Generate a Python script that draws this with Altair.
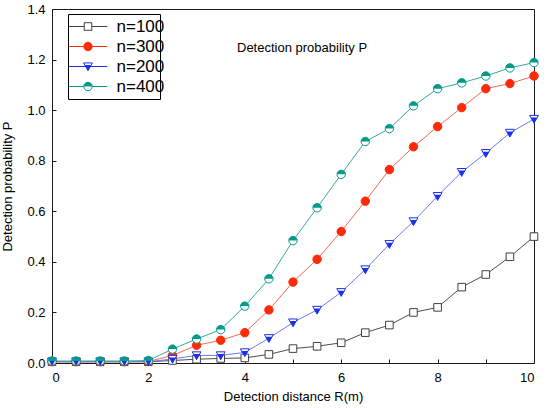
import altair as alt
import pandas as pd

# ---- data ----
x_vals = [0, 0.5, 1, 1.5, 2, 2.5, 3, 3.5, 4, 4.5, 5, 5.5, 6, 6.5, 7, 7.5, 8, 8.5, 9, 9.5, 10]
p_n100 = [0.005, 0.005, 0.005, 0.005, 0.005, 0.01, 0.015, 0.018, 0.02, 0.034, 0.057,
          0.066, 0.08, 0.12, 0.15, 0.20, 0.22, 0.30, 0.35, 0.42, 0.50]
p_n300 = [0.005, 0.005, 0.005, 0.005, 0.006, 0.03, 0.07, 0.09, 0.12, 0.21, 0.32,
          0.41, 0.52, 0.64, 0.765, 0.855, 0.935, 1.01, 1.085, 1.105, 1.135]
p_n200 = [0.005, 0.005, 0.005, 0.005, 0.005, 0.016, 0.03, 0.03, 0.042, 0.098, 0.16,
          0.21, 0.28, 0.37, 0.47, 0.56, 0.66, 0.755, 0.83, 0.91, 0.965]
p_n400 = [0.008, 0.008, 0.008, 0.008, 0.01, 0.055, 0.095, 0.132, 0.225, 0.333, 0.484,
          0.614, 0.746, 0.876, 0.927, 1.017, 1.085, 1.108, 1.135, 1.167, 1.188]

series_names = ["n=100", "n=300", "n=200", "n=400"]
line_colors = ["#4d4d4d", "#f36a52", "#6b7cf2", "#35aa9b"]
marker_colors = ["#404040", "#ff2a08", "#1a30ec", "#009a8a"]
marker_fills = ["#ffffff", "#ff2a08", "#ffffff", "#ffffff"]
half_series = ["n=200", "n=400"]
half_colors = ["#1a30ec", "#009a8a"]

x_ticks = [0, 1, 2, 3, 4, 5, 6, 7, 8, 9, 10]
y_ticks = [0.0, 0.1, 0.2, 0.3, 0.4, 0.5, 0.6, 0.7, 0.8, 0.9, 1.0, 1.1, 1.2, 1.3, 1.4]

rows = []
for name, vals in zip(series_names, [p_n100, p_n300, p_n200, p_n400]):
    for xv, yv in zip(x_vals, vals):
        rows.append({"R": xv, "P": yv, "series": name})
df = pd.DataFrame(rows)

# ---- marker glyphs (unit paths) ----
SQ = "M-0.9,-0.9L0.9,-0.9L0.9,0.9L-0.9,0.9Z"
CI = "M-1,0A1,1,0,1,1,1,0A1,1,0,1,1,-1,0Z"
TRI = "M-1.05,-0.85L1.05,-0.85L0,1Z"
CI_TOP = "M-1,0A1,1,0,0,1,1,0Z"
TRI_LOW = "M-0.77,-0.35L0.77,-0.35L0,1Z"
marker_paths = [SQ, CI, TRI, CI]
half_paths = [TRI_LOW, CI_TOP]

def stub(g):
    return f"M-4.6,0L-{g},0M{g},0L4.6,0"

legend_paths = [stub(0.9) + SQ, stub(1) + CI, stub(0.57) + TRI, stub(1) + CI]
BASE = "M-4.6,0L4.6,0"
legend_half_paths = [BASE, BASE, BASE + TRI_LOW, BASE + CI_TOP]

MSIZE = 71
FONT = "Liberation Sans"

xenc = alt.X("R:Q", scale=alt.Scale(domain=[0, 10], nice=False),
             axis=alt.Axis(values=x_ticks, title="Detection distance R(m)",
                           labelExpr="datum.value % 2 == 0 ? datum.label : ''",
                           offset=-4, tickSize=4, labelPadding=8, titlePadding=6,
                           domain=False, grid=False))
yenc = alt.Y("P:Q", scale=alt.Scale(domain=[0, 1.4], nice=False),
             axis=alt.Axis(values=y_ticks, title="Detection probability P", format=".1f",
                           labelExpr="round(datum.value * 10) % 2 == 0 ? datum.label : ''",
                           offset=-4, tickSize=4, labelPadding=7, titlePadding=12,
                           domain=False, grid=False))

lines = alt.Chart(df).mark_line(strokeWidth=1, clip=False).encode(
    x=xenc, y=yenc,
    stroke=alt.Stroke("series:N", scale=alt.Scale(domain=series_names, range=line_colors), legend=None),
    detail="series:N",
)

points = alt.Chart(df).mark_point(filled=True, size=MSIZE, strokeWidth=1, opacity=1).encode(
    x="R:Q", y="P:Q",
    shape=alt.Shape("series:N", scale=alt.Scale(domain=series_names, range=marker_paths), legend=None),
    fill=alt.Fill("series:N", scale=alt.Scale(domain=series_names, range=marker_fills), legend=None),
    stroke=alt.Stroke("series:N", scale=alt.Scale(domain=series_names, range=marker_colors), legend=None),
)

halves = alt.Chart(df).transform_filter(
    alt.FieldOneOfPredicate(field="series", oneOf=half_series)
).mark_point(filled=True, size=MSIZE, strokeWidth=0, opacity=1).encode(
    x="R:Q", y="P:Q",
    shape=alt.Shape("series:N", scale=alt.Scale(domain=half_series, range=half_paths), legend=None),
    fill=alt.Fill("series:N", scale=alt.Scale(domain=half_series, range=half_colors), legend=None),
)

LEG_X, LEG_Y = 16, 5
leg_common = dict(orient="none", legendX=LEG_X, legendY=LEG_Y, title=None,
                  labelFont=FONT, labelFontSize=17,
                  symbolSize=MSIZE, symbolOffset=7.5,
                  rowPadding=2, columnPadding=0, padding=4, cornerRadius=0)
# legend 1: line stubs, marker outlines and labels (white backdrop)
leg1 = alt.Legend(labelColor="black", symbolStrokeWidth=1, fillColor="white",
                  labelOffset=20, **leg_common)
# legend 2: half fills of the markers and the frame of the legend box (no text)
leg2 = alt.Legend(labelOpacity=0, symbolStrokeWidth=0, strokeColor="black",
                  labelExpr="''", labelOffset=59, **leg_common)

legend1 = alt.Chart(df).transform_filter("false").mark_point(
    filled=True, size=MSIZE, strokeWidth=1, opacity=1).encode(
    x="R:Q", y="P:Q",
    shape=alt.Shape("series:N", scale=alt.Scale(domain=series_names, range=legend_paths), legend=leg1),
    fill=alt.Fill("series:N", scale=alt.Scale(domain=series_names, range=marker_fills), legend=leg1),
    stroke=alt.Stroke("series:N", scale=alt.Scale(domain=series_names, range=marker_colors), legend=leg1),
)

legend2 = alt.Chart(df).transform_filter("false").mark_point(
    filled=True, size=MSIZE, strokeWidth=0, opacity=1).encode(
    x="R:Q", y="P:Q",
    shape=alt.Shape("series:N", scale=alt.Scale(domain=series_names, range=legend_half_paths), legend=leg2),
    fill=alt.Fill("series:N", scale=alt.Scale(domain=series_names,
                                               range=["#ffffff", "#ffffff"] + half_colors), legend=leg2),
)

chart = alt.layer(lines, points, halves, legend1, legend2).resolve_scale(
    shape="independent", fill="independent", stroke="independent"
).properties(
    width=482, height=354,
    autosize=alt.AutoSizeParams(type="none"),
    padding={"left": 52, "top": 9, "right": 18, "bottom": 45},
    title=alt.Title("Detection probability P", anchor="start", frame="group", orient="top",
                    dx=185, dy=62, offset=0, baseline="alphabetic",
                    fontSize=13, fontWeight="normal", font=FONT, color="black"),
).configure(font=FONT, background="white").configure_view(
    stroke="#1a1a1a", strokeWidth=1
).configure_axis(
    labelFont=FONT, labelFontSize=13, labelColor="black",
    titleFont=FONT, titleFontSize=13, titleFontWeight="normal", titleColor="black",
    tickColor="#1a1a1a", tickWidth=1,
)

chart.save("out.html", embed_options={"renderer": "svg", "actions": False})
